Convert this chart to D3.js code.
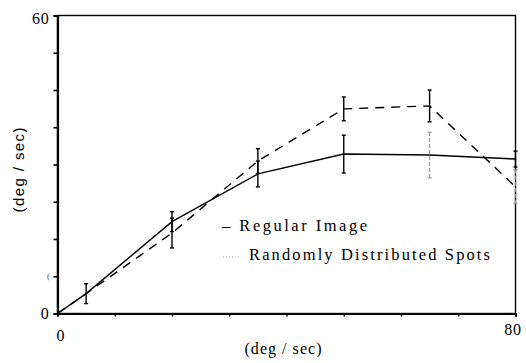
<!DOCTYPE html>
<html>
<head>
<meta charset="utf-8">
<script src="https://cdn.jsdelivr.net/npm/d3@7"></script>
<style>
  body { margin: 0; background: #fff; }
  svg { display: block; }
</style>
</head>
<body>
<svg width="526" height="363"></svg>
<script>
// speeds along x (deg/sec)
const speeds = [0, 5, 20, 35, 50, 65, 80];
// Regular Image
const regular = [0, 4, 18.5, 28.1, 32.1, 31.9, 31.1];
const regularErr = [0, 2, 2, 2.6, 3.8, 4.6, 1.6];
// Randomly Distributed Spots
const random = [0, 4, 16.2, 30.7, 41.2, 41.8, 25.5];
const randomErr = [0, 0, 3, 2.5, 2.4, 3.2, 3.4];

const xTicks = d3.range(0, 81, 10);
const yTicks = d3.range(0, 60.1, 7.5);
const xLabels = [0, 80];
const yLabels = [0, 60];
const legendItems = ["\u2013 Regular Image", "Randomly Distributed Spots"];

const svg = d3.select("svg");
const pLeft = 57.5, pRight = 515.5, pTop = 15.5, pBottom = 313.5;

const x = d3.scaleLinear().domain([0, 80]).range([pLeft, pRight]);
const y = d3.scaleLinear().domain([0, 60]).range([pBottom, pTop]);

const serif = "'Liberation Serif', serif";

// frame
svg.append("rect")
  .attr("x", pLeft).attr("y", pTop)
  .attr("width", pRight - pLeft).attr("height", pBottom - pTop)
  .attr("fill", "none").attr("stroke", "#000").attr("stroke-width", 1.4);

// y axis
const yAxis = svg.append("g")
  .attr("transform", `translate(${pLeft},0)`)
  .call(d3.axisLeft(y).tickValues(yTicks).tickSize(4).tickPadding(4)
    .tickFormat(d => yLabels.includes(d) ? d : ""));
yAxis.select(".domain").attr("stroke-width", 2.2);
yAxis.selectAll("line").attr("stroke-width", 1.6);
yAxis.selectAll("text")
  .attr("font-family", serif).attr("font-size", 16).attr("letter-spacing", 0.8)
  .attr("dy", d => d === 60 ? "0.5em" : "0.3em");

// x axis
const xAxis = svg.append("g")
  .attr("transform", `translate(0,${pBottom})`)
  .call(d3.axisBottom(x).tickValues(xTicks).tickSize(3).tickPadding(4)
    .tickFormat(d => xLabels.includes(d) ? d : ""));
xAxis.select(".domain").attr("stroke-width", 2.2);
xAxis.selectAll("line").attr("stroke-width", 1.4);
xAxis.selectAll("text")
  .attr("font-family", serif).attr("font-size", 16).attr("letter-spacing", 0.8)
  .attr("dy", d => d === 0 ? "1.3em" : "0.9em")
  .attr("dx", d => d === 0 ? 3 : -3);

// stray mark next to the y axis
svg.append("text").attr("x", 47).attr("y", 279)
  .attr("font-family", serif).attr("font-size", 9).attr("fill", "#555").text("(");

// axis titles
svg.append("text")
  .attr("x", 283).attr("y", 354).attr("text-anchor", "middle")
  .attr("font-family", serif).attr("font-size", 16)
  .attr("textLength", 77).attr("lengthAdjust", "spacing")
  .text("(deg / sec)");

svg.append("text")
  .attr("transform", "translate(24,170) rotate(-90)")
  .attr("text-anchor", "middle")
  .attr("font-family", "'Liberation Sans', Arial, sans-serif").attr("font-size", 15)
  .attr("textLength", 85).attr("lengthAdjust", "spacing")
  .text("(deg / sec)");

// lines
const line = d3.line().x(d => x(d[0])).y(d => y(d[1]));

svg.append("path")
  .datum(d3.zip(speeds, regular))
  .attr("d", line).attr("fill", "none")
  .attr("stroke", "#000").attr("stroke-width", 1.4);

svg.append("path")
  .datum(d3.zip(speeds, random))
  .attr("d", line).attr("fill", "none")
  .attr("stroke", "#000").attr("stroke-width", 1.4)
  .attr("stroke-dasharray", "9,7");

// error bars
const faint = { regular: [65], random: [80] };
function errorBars(vals, errs, key) {
  const data = speeds.map((s, i) => ({ s, v: vals[i], e: errs[i] })).filter(d => d.e > 0);
  const g = svg.append("g");
  data.forEach(d => {
    const light = faint[key].includes(d.s);
    const stroke = light ? "#888" : "#000";
    const bg = g.append("g")
      .attr("stroke", stroke).attr("stroke-width", light ? 1 : 1.4)
      .attr("stroke-dasharray", light ? "4,2" : null);
    bg.append("line")
      .attr("x1", x(d.s)).attr("x2", x(d.s))
      .attr("y1", y(d.v - d.e)).attr("y2", y(d.v + d.e));
    [d.v - d.e, d.v + d.e].forEach(v => {
      bg.append("line")
        .attr("stroke-dasharray", "none")
        .attr("x1", x(d.s) - 2).attr("x2", x(d.s) + 2)
        .attr("y1", y(v)).attr("y2", y(v));
    });
  });
}
errorBars(regular, regularErr, "regular");
errorBars(random, randomErr, "random");

// legend
const leg = svg.append("g").attr("font-family", serif).attr("font-size", 16.5);
leg.append("text").attr("x", 222).attr("y", 231)
  .attr("textLength", 145).attr("lengthAdjust", "spacing")
  .text(legendItems[0]);
leg.append("line")
  .attr("x1", 223).attr("x2", 240).attr("y1", 257).attr("y2", 257)
  .attr("stroke", "#aaa").attr("stroke-width", 1).attr("stroke-dasharray", "1,2");
leg.append("text").attr("x", 249).attr("y", 260)
  .attr("textLength", 241).attr("lengthAdjust", "spacing")
  .text(legendItems[1]);
</script>
</body>
</html>
